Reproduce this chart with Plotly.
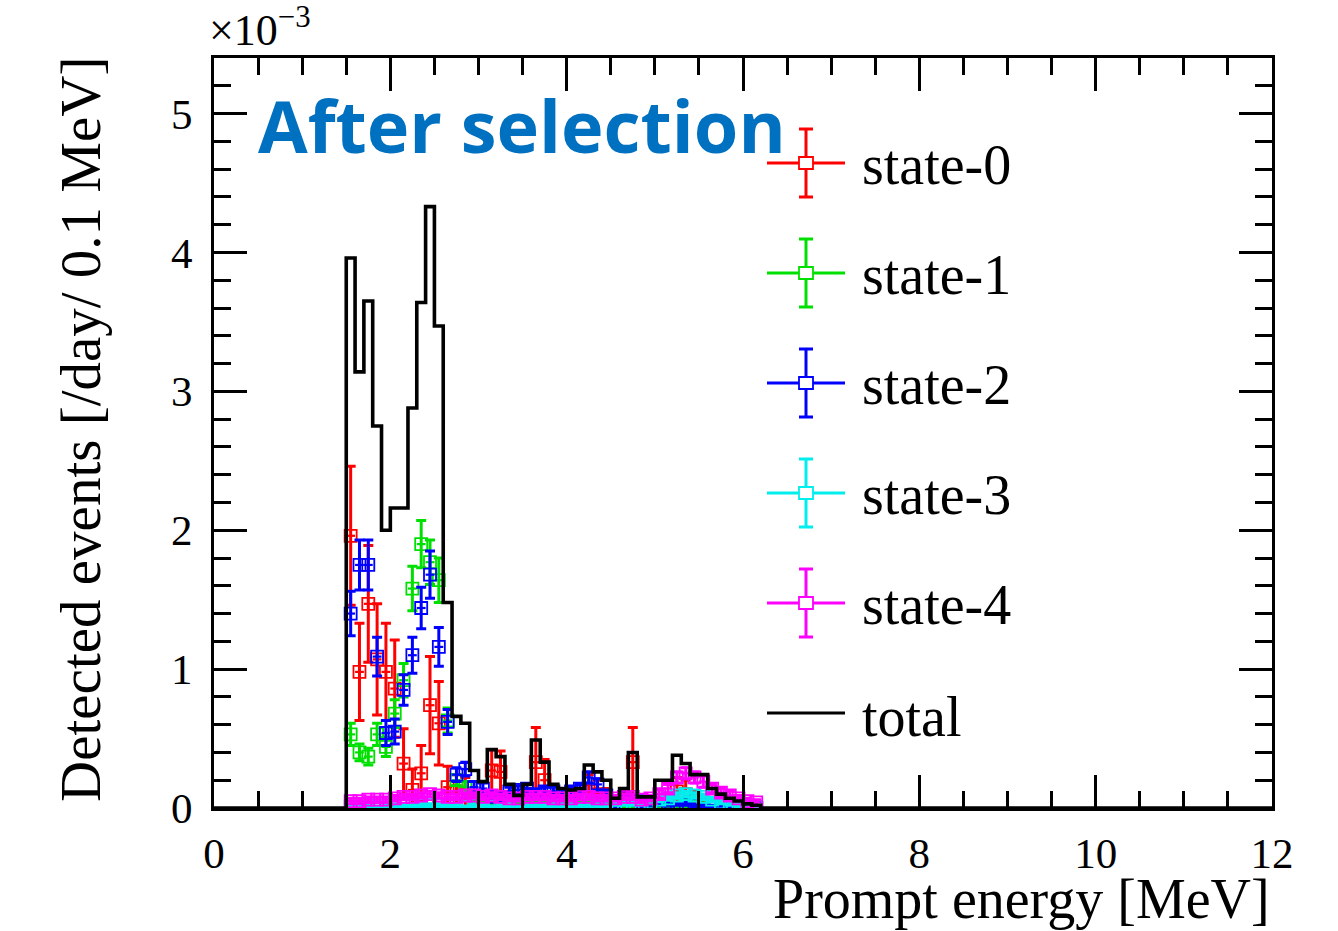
import plotly.graph_objects as go

# ---------------- data (units of 1e-3 /day/0.1 MeV) ----------------
bin_centers = [1.55, 1.65, 1.75, 1.85, 1.95, 2.05, 2.15, 2.25, 2.35, 2.45,
               2.55, 2.65, 2.75, 2.85, 2.95, 3.05, 3.15, 3.25, 3.35, 3.45,
               3.55, 3.65, 3.75, 3.85, 3.95, 4.05, 4.15, 4.25, 4.35, 4.45,
               4.55, 4.65, 4.75, 4.85, 4.95, 5.05, 5.15, 5.25, 5.35, 5.45,
               5.55, 5.65, 5.75, 5.85, 5.95, 6.05, 6.15]

total = [3.96, 3.14, 3.65, 2.75, 2.00, 2.16, 2.16, 2.88, 3.64, 4.33,
         3.47, 1.48, 0.66, 0.61, 0.27, 0.19, 0.42, 0.37, 0.17, 0.09,
         0.17, 0.49, 0.33, 0.17, 0.14, 0.13, 0.14, 0.31, 0.26, 0.20,
         0.07, 0.14, 0.40, 0.08, 0.08, 0.20, 0.20, 0.38, 0.32, 0.24,
         0.24, 0.14, 0.10, 0.07, 0.05, 0.03, 0.02]

state0 = [1.96, 0.98, 1.47, 1.07, 0.98, 0.86, 0.32, 0.13, 0.25, 0.74,
          0.61, 0.15, 0.12, 0.10, 0.03, 0.00, 0.27, 0.26, 0.05, 0.00,
          0.06, 0.33, 0.20, 0.04, 0.02, 0.00, 0.00, 0.12, 0.10, 0.06,
          0.00, 0.05, 0.33, 0.00, 0.00, 0.02, 0.03, 0.12, 0.10, 0.05,
          0.03, 0.00, 0.00, 0.00, 0.00, 0.00, 0.00]
state0_err = [0.50, 0.35, 0.42, 0.40, 0.35, 0.35, 0.25, 0.15, 0.20, 0.35,
              0.30, 0.15, 0.12, 0.12, 0.05, 0.00, 0.15, 0.15, 0.07, 0.00,
              0.08, 0.25, 0.15, 0.06, 0.04, 0.00, 0.00, 0.12, 0.10, 0.08,
              0.00, 0.07, 0.25, 0.00, 0.00, 0.04, 0.05, 0.10, 0.10, 0.07,
              0.05, 0.00, 0.00, 0.00, 0.00, 0.00, 0.00]

state1 = [0.53, 0.40, 0.37, 0.53, 0.44, 0.68, 0.92, 1.58, 1.90, 1.77,
          1.64, 0.63, 0.20, 0.15, 0.08, 0.06, 0.05, 0.05, 0.04, 0.04,
          0.04, 0.04, 0.03, 0.03, 0.03, 0.03, 0.03, 0.03, 0.03, 0.02,
          0.02, 0.02, 0.02, 0.02, 0.02, 0.02, 0.02, 0.02, 0.02, 0.01,
          0.01, 0.01, 0.01, 0.01, 0.00, 0.00, 0.00]
state1_err = [0.08, 0.06, 0.06, 0.08, 0.07, 0.10, 0.12, 0.16, 0.17, 0.16,
              0.16, 0.09, 0.04, 0.04, 0.02, 0.02, 0.02, 0.02, 0.01, 0.01,
              0.01, 0.01, 0.01, 0.01, 0.01, 0.01, 0.01, 0.01, 0.01, 0.01,
              0.01, 0.01, 0.01, 0.01, 0.01, 0.01, 0.01, 0.01, 0.01, 0.00,
              0.00, 0.00, 0.00, 0.00, 0.00, 0.00, 0.00]

state2 = [1.40, 1.75, 1.75, 1.09, 0.54, 0.55, 0.85, 1.10, 1.44, 1.68,
          1.16, 0.62, 0.24, 0.28, 0.15, 0.14, 0.08, 0.07, 0.12, 0.13,
          0.14, 0.10, 0.12, 0.12, 0.10, 0.12, 0.14, 0.22, 0.17, 0.09,
          0.05, 0.08, 0.06, 0.05, 0.04, 0.03, 0.04, 0.03, 0.03, 0.02,
          0.02, 0.01, 0.01, 0.01, 0.00, 0.00, 0.00]
state2_err = [0.16, 0.18, 0.18, 0.14, 0.09, 0.09, 0.11, 0.13, 0.15, 0.17,
              0.14, 0.09, 0.05, 0.05, 0.04, 0.04, 0.03, 0.03, 0.03, 0.03,
              0.03, 0.03, 0.03, 0.03, 0.03, 0.03, 0.03, 0.04, 0.04, 0.03,
              0.02, 0.02, 0.02, 0.02, 0.02, 0.01, 0.02, 0.01, 0.01, 0.01,
              0.01, 0.01, 0.01, 0.01, 0.00, 0.00, 0.00]

state3 = [0.01, 0.01, 0.02, 0.01, 0.02, 0.02, 0.02, 0.02, 0.02, 0.02,
          0.02, 0.02, 0.02, 0.01, 0.02, 0.02, 0.01, 0.02, 0.02, 0.01,
          0.02, 0.02, 0.02, 0.02, 0.02, 0.02, 0.02, 0.02, 0.02, 0.02,
          0.03, 0.03, 0.03, 0.03, 0.04, 0.06, 0.07, 0.09, 0.10, 0.09,
          0.08, 0.06, 0.04, 0.03, 0.02, 0.02, 0.01]
state3_err = [0.005, 0.005, 0.01, 0.005, 0.01, 0.01, 0.01, 0.01, 0.01, 0.01,
              0.01, 0.01, 0.01, 0.005, 0.01, 0.01, 0.005, 0.01, 0.01, 0.005,
              0.01, 0.01, 0.01, 0.01, 0.01, 0.01, 0.01, 0.01, 0.01, 0.01,
              0.01, 0.01, 0.01, 0.01, 0.01, 0.015, 0.015, 0.02, 0.02, 0.02,
              0.02, 0.015, 0.01, 0.01, 0.01, 0.01, 0.005]

state4 = [0.05, 0.05, 0.06, 0.06, 0.06, 0.07, 0.08, 0.08, 0.09, 0.10,
          0.09, 0.08, 0.08, 0.09, 0.09, 0.08, 0.09, 0.08, 0.07, 0.07,
          0.08, 0.08, 0.08, 0.07, 0.07, 0.07, 0.08, 0.08, 0.07, 0.07,
          0.07, 0.08, 0.08, 0.06, 0.07, 0.10, 0.14, 0.22, 0.25, 0.22,
          0.19, 0.14, 0.11, 0.09, 0.07, 0.05, 0.04]
state4_err = [0.02, 0.02, 0.02, 0.02, 0.02, 0.02, 0.02, 0.02, 0.02, 0.02,
              0.02, 0.02, 0.02, 0.02, 0.02, 0.02, 0.02, 0.02, 0.02, 0.02,
              0.02, 0.02, 0.02, 0.02, 0.02, 0.02, 0.02, 0.02, 0.02, 0.02,
              0.02, 0.02, 0.02, 0.02, 0.02, 0.03, 0.03, 0.04, 0.04, 0.04,
              0.04, 0.03, 0.03, 0.03, 0.02, 0.02, 0.02]

bin_half_width = 0.05
series_names = ["state-0", "state-1", "state-2", "state-3", "state-4"]
series_values = [state0, state1, state2, state3, state4]
series_errors = [state0_err, state1_err, state2_err, state3_err, state4_err]
series_colors = ["#ff0000", "#00e000", "#0000ff", "#00eeee", "#ff00ff"]

x_ticks = [0, 2, 4, 6, 8, 10, 12]
y_ticks = [0, 1, 2, 3, 4, 5]

# ---------------- geometry helpers ----------------
W, H = 1338, 931
L, R, T, B = 214, 1272, 58, 808


def px_x(p):
    return (p - L) / (R - L)


def px_y(p):
    return (B - p) / (B - T)


fig = go.Figure()

for name, vals, errs, col in zip(series_names, series_values, series_errors, series_colors):
    fig.add_trace(go.Scatter(
        x=bin_centers, y=vals, mode="markers", name=name, showlegend=False,
        marker=dict(symbol="square-open", size=12, color=col, line=dict(width=1.8, color=col)),
        error_y=dict(type="data", array=errs, visible=True, color=col, thickness=3, width=5),
        error_x=dict(type="constant", value=bin_half_width, visible=True, color=col, thickness=2.2, width=0),
    ))

# total histogram drawn as a step line from bin edges
step_x = [0] + [c - bin_half_width for c in bin_centers] + [bin_centers[-1] + bin_half_width, 12]
step_y = [0] + total + [0, 0]
fig.add_trace(go.Scatter(x=step_x, y=step_y, mode="lines", line=dict(shape="hv", color="black", width=3.6),
                         name="total", showlegend=False))

serif = "Liberation Serif, Times New Roman, serif"

# ---------------- manual ROOT-style legend ----------------
shapes = []
annotations = []
leg_y = [163, 273, 383, 493, 603]
for yy, name, col in zip(leg_y, series_names, series_colors):
    shapes.append(dict(type="line", xref="paper", yref="paper", x0=px_x(767), x1=px_x(845),
                       y0=px_y(yy), y1=px_y(yy), line=dict(color=col, width=3)))
    shapes.append(dict(type="line", xref="paper", yref="paper", x0=px_x(806), x1=px_x(806),
                       y0=px_y(yy - 34), y1=px_y(yy + 34), line=dict(color=col, width=3)))
    for cy in (yy - 34, yy + 34):
        shapes.append(dict(type="line", xref="paper", yref="paper", x0=px_x(799), x1=px_x(813),
                           y0=px_y(cy), y1=px_y(cy), line=dict(color=col, width=3)))
    shapes.append(dict(type="rect", xref="paper", yref="paper", x0=px_x(799), x1=px_x(813),
                       y0=px_y(yy - 6), y1=px_y(yy + 6), line=dict(color=col, width=1.8),
                       fillcolor="white"))
    annotations.append(dict(text=name, xref="paper", yref="paper", x=px_x(860), y=px_y(yy + 2),
                            xanchor="left", yanchor="middle", showarrow=False,
                            font=dict(family=serif, size=56, color="black")))
shapes.append(dict(type="line", xref="paper", yref="paper", x0=px_x(767), x1=px_x(845),
                   y0=px_y(713), y1=px_y(713), line=dict(color="black", width=3)))
annotations.append(dict(text="total", xref="paper", yref="paper", x=px_x(860), y=px_y(717),
                        xanchor="left", yanchor="middle", showarrow=False,
                        font=dict(family=serif, size=56, color="black")))

# titles and labels
annotations.append(dict(text="After selection", xref="paper", yref="paper", x=px_x(256), y=px_y(125),
                        xanchor="left", yanchor="middle", showarrow=False,
                        font=dict(family="Open Sans", size=72, color="#0070c0", weight="bold")))
annotations.append(dict(text="×10<sup>−3</sup>", xref="paper", yref="paper", x=px_x(207), y=px_y(57),
                        xanchor="left", yanchor="bottom", showarrow=False,
                        font=dict(family=serif, size=44, color="black")))
annotations.append(dict(text="Prompt energy [MeV]", xref="paper", yref="paper", x=1.0, y=px_y(899),
                        xanchor="right", yanchor="middle", showarrow=False,
                        font=dict(family=serif, size=56, color="black")))
annotations.append(dict(text="Detected events [/day/ 0.1 MeV]", xref="paper", yref="paper",
                        x=px_x(80), y=px_y(430), xanchor="center", yanchor="middle", textangle=-90,
                        showarrow=False, font=dict(family=serif, size=57, color="black")))

axis_common = dict(showline=True, linecolor="black", linewidth=3, mirror="allticks",
                   ticks="inside", tickcolor="black", tickwidth=3, ticklen=33,
                   showgrid=False, zeroline=False,
                   tickfont=dict(family=serif, size=43, color="black"))

fig.update_layout(
    width=W, height=H,
    margin=dict(l=L, r=W - R, t=T, b=H - B),
    plot_bgcolor="white", paper_bgcolor="white",
    xaxis=dict(range=[0, 12], tickvals=x_ticks, ticktext=[str(v) for v in x_ticks],
               minor=dict(dtick=0.5, ticklen=17, tickwidth=3, tickcolor="black", ticks="inside"),
               ticklabelstandoff=5, **axis_common),
    yaxis=dict(range=[0, 5.4], tickvals=y_ticks, ticktext=[str(v) for v in y_ticks],
               minor=dict(dtick=0.2, ticklen=17, tickwidth=3, tickcolor="black", ticks="inside"),
               ticklabelstandoff=10, **axis_common),
    shapes=shapes, annotations=annotations, showlegend=False,
)

fig.write_html("out.html")
